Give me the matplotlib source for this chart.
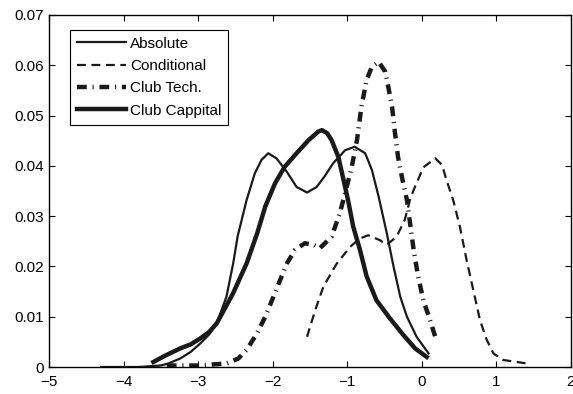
import numpy as np
import matplotlib
matplotlib.use('Agg')
import matplotlib.pyplot as plt

plt.rcParams['font.family'] = ['Liberation Sans', 'DejaVu Sans']

# Absolute
x_abs = [-4.3, -3.8, -3.5, -3.4, -3.24, -3.1, -2.97, -2.85, -2.75, -2.62, -2.53, -2.47,
         -2.35, -2.24, -2.15, -2.06, -1.95, -1.81, -1.68, -1.54, -1.41, -1.3, -1.19, -1.03,
         -0.90, -0.76, -0.67, -0.58, -0.47, -0.38, -0.29, -0.20, -0.07, 0.09]
y_abs = [0.0, 0.0, 0.0003, 0.0007, 0.0017, 0.003, 0.0047, 0.0065, 0.0087, 0.014, 0.0206, 0.026,
         0.0332, 0.0385, 0.0412, 0.0425, 0.0415, 0.0388, 0.0358, 0.0347, 0.0358, 0.038, 0.0405, 0.0431,
         0.0438, 0.0425, 0.0392, 0.0339, 0.0266, 0.02, 0.014, 0.01, 0.006, 0.0027]

# Conditional
x_cond = [-1.54, -1.43, -1.32, -1.14, -0.96, -0.84, -0.72, -0.56, -0.47, -0.34, -0.23, -0.16,
          -0.11, 0.02, 0.18, 0.27, 0.33, 0.42, 0.51, 0.60, 0.69, 0.78, 0.87, 0.96, 1.09, 1.41]
y_cond = [0.006, 0.0113, 0.016, 0.0206, 0.0239, 0.0255, 0.0262, 0.0252, 0.0243, 0.0259, 0.0292, 0.0332,
          0.0352, 0.0397, 0.0415, 0.0402, 0.0372, 0.0332, 0.0279, 0.0213, 0.0153, 0.0093, 0.0054, 0.0027,
          0.0014, 0.0007]

# Club Tech.
x_tech = [-3.42, -3.0, -2.62, -2.46, -2.35, -2.21, -2.10, -1.99, -1.90, -1.81, -1.70, -1.57,
          -1.45, -1.37, -1.21, -1.10, -1.03, -0.94, -0.87, -0.81, -0.74, -0.67, -0.58, -0.49,
          -0.45, -0.40, -0.36, -0.32, -0.25, -0.2, -0.11, -0.05, 0.02, 0.11, 0.18]
y_tech = [0.0003, 0.0003, 0.0007, 0.0017, 0.0034, 0.0067, 0.01, 0.014, 0.0173, 0.0206, 0.0233, 0.0246,
          0.0243, 0.0236, 0.0259, 0.0306, 0.0345, 0.0398, 0.0451, 0.0518, 0.0571, 0.0597, 0.0607, 0.0587,
          0.0557, 0.0518, 0.0465, 0.0418, 0.0365, 0.0332, 0.0233, 0.018, 0.0133, 0.0093, 0.006]

# Club Cappital
x_cap = [-3.6, -3.45, -3.24, -3.1, -2.97, -2.85, -2.75, -2.53, -2.35, -2.21, -2.10, -1.97,
         -1.84, -1.68, -1.52, -1.39, -1.34, -1.27, -1.21, -1.12, -1.05, -0.99, -0.92, -0.83,
         -0.74, -0.61, -0.43, -0.25, -0.09, 0.065]
y_cap = [0.001, 0.0022, 0.0037, 0.0045, 0.0057, 0.007, 0.0087, 0.0147, 0.0206, 0.0265, 0.0319, 0.0365,
         0.0398, 0.0425, 0.0451, 0.0468, 0.0471, 0.0465, 0.0451, 0.0418, 0.0372, 0.0332, 0.0279, 0.0233,
         0.018, 0.0133, 0.0097, 0.0064, 0.0037, 0.002]

fig = plt.figure(figsize=(5.73, 3.94), dpi=100)
ax = fig.add_axes([0.0855, 0.0685, 0.911, 0.8935])

ax.plot(x_abs, y_abs, color='#1a1a1a', lw=1.6, label='Absolute')
ax.plot(x_cond, y_cond, color='#1a1a1a', lw=1.6, linestyle=(0, (4, 2.5)), label='Conditional')
ax.plot(x_tech, y_tech, color='#1a1a1a', lw=3.2, linestyle=(0, (2.2, 1.3, 0.25, 1.3)), label='Club Tech.')
ax.plot(x_cap, y_cap, color='#1a1a1a', lw=3.2, label='Club Cappital')

ax.set_xlim(-5, 2)
ax.set_ylim(0, 0.07)
ax.set_xticks(np.arange(-5, 3, 1))
ax.set_yticks(np.arange(0, 0.071, 0.01))
ax.set_xticklabels(['\u22125', '\u22124', '\u22123', '\u22122', '\u22121', '0', '1', '2'])
ax.set_yticklabels(['0', '0.01', '0.02', '0.03', '0.04', '0.05', '0.06', '0.07'])
ax.tick_params(direction='in', top=True, right=True, length=4, labelsize=11, width=0.8)
ax.tick_params(axis='x', pad=6)
for s in ax.spines.values():
    s.set_linewidth(1.0)

leg = ax.legend(loc='upper left', bbox_to_anchor=(0.04, 0.958), fancybox=False, framealpha=1,
                edgecolor='black', fontsize=11, handlelength=3.2, handletextpad=0.3,
                labelspacing=0.55, borderpad=0.45, borderaxespad=0)
leg.get_frame().set_linewidth(0.8)

fig.savefig('out.png', dpi=100)
